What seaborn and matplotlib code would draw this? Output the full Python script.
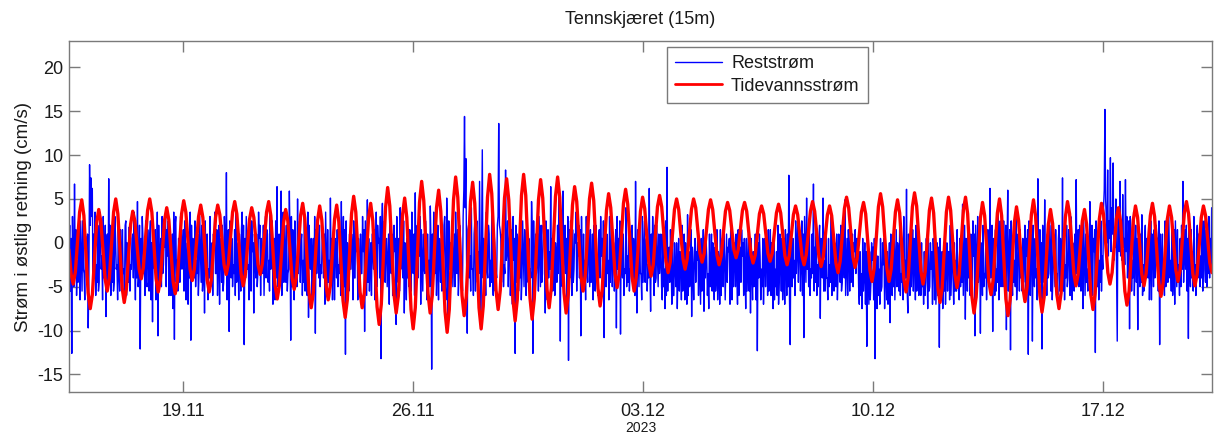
import pandas as pd
import matplotlib
matplotlib.use("Agg")
import matplotlib.pyplot as plt
import matplotlib.dates as mdates
import seaborn as sns

# ---------------- data ----------------
title = "Tennskjæret (15m)"
ylabel = "Strøm i østlig retning (cm/s)"
xlabel = "2023"
series_names = ["Reststrøm", "Tidevannsstrøm"]
xtick_dates = ["2023-11-19", "2023-11-26", "2023-12-03", "2023-12-10", "2023-12-17"]
ytick_values = [-15, -10, -5, 0, 5, 10, 15, 20]
x_range = ["2023-11-15 12:28", "2023-12-20 07:45"]
y_range = [-17, 23]

# residual current (cm/s), samples at hh:30
resid_start = "2023-11-15 12:30"
resid_step = "1h"
resid = [
    -1.0, -5.5, -12.6, -3.0, 6.7, 1.5, -2.0, 0.5, -6.5, -1.5, 2.5, -3.5, 0.8, -4.0, -9.7, 8.9, 7.4, 6.2, 1.0, 3.5, -2.5, 2.0, -4.5, 0.5,
    -1.5, 3.0, -3.5, -8.4, 1.0, 7.3, 2.0, -1.0, 3.2, -4.5, 0.5, -2.5, 2.8, -5.5, -1.0, 1.5, -3.0, 2.0, -6.0, -0.5, 1.8, -2.5, 0.5, -4.0,
    -2.0, 1.0, 4.7, -3.5, -12.1, -4.0, 0.5, -2.5, 2.5, -5.0, -1.5, 1.0, -6.5, -9.0, -2.0, 1.5, -4.0, -10.6, -3.0, 0.5, 3.0, -2.5, -0.5, -5.0,
    -1.5, -6.0, 0.5, -3.0, -7.5, -11.0, 3.0, -2.0, 0.5, -4.5, 1.5, -1.0, -5.5, 2.0, -2.5, -7.0, -4.0, -11.1, -3.5, 0.0, 2.5, -2.0, 1.0, -3.5,
    -1.0, 2.0, -4.0, -8.0, -1.5, 1.0, -3.0, 3.0, -2.0, -6.0, 0.0, -3.5, 1.5, -2.5, -7.0, -1.0, 2.0, -4.5, 0.5, 8.0, 1.0, -10.1, -3.0, 0.5,
    -2.5, 1.5, 4.0, -3.0, -6.5, -1.0, 1.5, -5.0, -11.6, -4.0, 0.0, -2.5, 2.5, -5.5, -1.0, -8.0, -2.0, 1.0, -3.5, 0.5, -6.0, -2.0, 2.0, -1.5,
    -4.0, 1.0, -2.0, 3.5, -1.5, -7.0, 0.5, 2.5, 6.4, 0.0, -3.0, 5.9, 1.5, -4.5, -1.0, 2.0, -3.5, 5.9, -11.1, -5.0, -1.0, 2.5, -2.5, 5.0,
    -1.0, -4.5, 1.0, -2.0, 3.0, -3.0, -6.0, -8.5, -2.5, 0.5, -1.5, -5.0, -10.3, -3.5, 0.0, 2.0, -2.5, 1.0, -4.0, -7.0, -1.5, 1.5, -2.0, 5.1,
    0.5, -3.0, -6.5, -1.0, 1.5, -2.5, 0.5, 4.7, -1.5, -5.0, -12.7, -6.0, -1.5, 1.0, -3.0, -0.5, 2.5, -4.0, -1.0, -6.5, -2.0, 1.0, -3.5, -1.0,
    -10.1, -2.0, 4.9, 0.5, -3.0, -6.0, -1.0, 1.5, -2.5, -5.0, 0.0, -4.0, -13.2, 4.5, -1.5, -4.5, 0.5, -2.0, -7.0, -2.5, 1.0, -3.0, -1.0, -9.3,
    -2.5, 0.5, 4.0, -1.5, -4.0, -8.0, -2.0, 0.5, -3.0, 1.5, -5.5, -1.0, 1.0, 5.7, -0.5, -4.0, -1.5, -7.0, -2.0, 1.0, -3.5, 0.0, 1.0, -2.0,
    4.2, -14.4, -4.0, -1.0, 1.5, -3.5, -6.5, -1.5, 0.5, -2.5, 2.0, -5.0, 5.1, -9.9, -3.0, 0.0, 2.5, -2.0, -5.0, -0.5, 1.5, -3.5, 0.5, -2.5,
    3.0, 14.4, 9.6, -10.3, 2.0, -1.5, 4.0, -3.0, 1.0, -5.5, 2.5, -1.0, 7.0, -9.9, 10.6, 0.5, -2.5, 3.5, -4.0, 1.0, -2.0, 4.5, -6.0, 0.0,
    -3.0, 2.0, 13.6, 1.5, -4.5, 0.0, -2.5, 8.3, -1.0, -5.0, 1.5, -3.0, -7.0, -2.0, -12.6, -4.5, 0.5, -2.0, 2.5, -4.0, -1.0, 1.5, -6.0, -2.5,
    0.5, -3.0, 4.7, -12.6, -3.5, 1.0, -2.0, -5.5, -1.0, 2.0, -3.5, 0.5, -8.0, -2.5, 1.5, -1.0, 6.4, 0.5, -3.0, -6.0, -1.5, 2.0, 6.0, -11.2,
    -2.0, 5.9, 0.5, -3.5, -7.0, -13.4, -4.0, -1.0, 1.5, -3.0, 0.0, -5.5, -1.5, -4.0, -10.6, -3.0, 1.0, -2.0, 3.0, -4.5, -1.0, 1.5, -3.5, -6.5,
    -1.0, 2.0, -2.5, 0.5, -4.0, -1.5, -6.0, -10.8, -3.0, 1.0, -2.0, 3.0, -1.5, -5.0, 0.0, -2.5, -9.7, -3.0, -1.0, -10.4, -2.5, 1.0, -3.0, 4.0,
    -1.5, 2.0, -3.0, 0.5, -5.0, -1.0, 7.0, -8.0, -2.0, 1.5, -3.5, 3.0, -1.0, -4.5, 0.5, -2.5, 6.2, -7.8, -3.0, 0.0, 2.0, -4.0, -1.5, 1.0,
    -2.0, -5.0, 1.0, -3.0, 2.5, 8.6, -1.0, -4.5, -2.0, 1.5, -6.0, -3.0, 0.0, -2.5, -5.5, -1.5, 2.0, -3.5, -6.5, -2.0, 3.2, -1.0, -4.0, -8.4,
    -3.0, -1.0, -4.5, -2.0, -6.0, -3.5, 0.5, -2.5, -7.8, -4.0, -1.5, -3.5, 1.0, -2.5, -5.5, -3.0, -0.5, -4.0, -6.5, -2.0, 1.5, -3.0, -5.0, -1.5,
    -2.5, -4.5, -1.0, -7.0, -3.0, 0.0, -2.0, -5.0, -3.5, 1.5, -2.5, -4.5, -1.5, -6.0, -3.0, 0.5, -2.0, -5.5, -8.0, -3.5, -1.0, -4.0, -6.5, -12.3,
    -4.0, -1.5, -3.0, 0.5, -2.5, -5.0, -1.0, 1.5, -3.5, -6.0, -2.0, 0.0, -3.0, -1.0, 2.0, -4.5, -2.0, 0.5, -3.5, -7.0, -1.5, 1.0, 7.7, -11.6,
    -3.0, 0.5, -2.0, 2.5, -1.0, -4.5, 1.0, -2.5, -6.0, -10.8, -1.0, 5.1, 0.0, 2.5, -3.0, 1.0, 6.7, -0.5, 2.0, -2.5, 0.5, -8.6, -1.0, 5.1,
    -2.0, 1.5, -4.0, 0.5, -2.5, 3.0, -1.0, -5.5, -2.0, 1.0, -3.5, -0.5, 2.0, -4.5, -1.5, 4.9, -2.5, -6.0, -1.0, 1.5, -3.0, -5.0, -1.0, -3.5,
    -2.0, -5.0, -1.0, -3.5, 0.5, -4.0, -7.0, -11.8, -3.0, -1.0, -4.5, -2.0, -6.5, -13.2, -4.0, -1.5, -3.0, 0.5, -5.0, -2.5, -7.5, -3.0, -1.0, -4.0,
    -9.1, -3.0, -0.5, 2.0, -2.5, -5.0, -1.0, 1.5, -3.5, 0.0, 3.0, -2.0, 6.1, -8.0, -3.0, 0.5, -2.0, -5.5, -1.5, 2.0, -3.0, -6.0, -2.0, 0.0,
    -3.5, -1.0, -4.5, -2.0, 0.5, -5.0, -3.0, -7.0, -1.5, 1.0, -3.5, -6.0, -11.9, -4.0, -1.0, -2.5, 1.5, -3.0, -5.5, -1.0, 2.0, -2.5, -4.0, 0.0,
    -2.0, 1.5, -3.0, 0.5, -1.5, 4.4, -2.0, -8.7, -1.0, 2.5, -2.5, 1.0, -4.0, -1.5, -10.6, -2.0, 3.0, -3.0, -10.3, -1.0, 2.0, -3.5, 0.5, -2.0,
    -4.5, 6.2, 0.5, -10.1, -2.5, 1.5, -3.0, 3.5, -1.0, -5.0, 0.0, 2.5, -2.0, -9.9, 6.0, -1.5, -12.2, -3.5, 0.5, -2.0, 3.0, -4.0, -1.0, 1.5,
    -3.0, 0.5, -2.0, -6.0, -1.5, -12.7, -3.0, 1.0, -11.2, -2.5, 0.5, -3.0, 7.3, -1.0, -4.5, -12.1, -2.0, 4.9, -1.5, 1.0, -3.5, -0.5, 2.0, -4.0,
    -2.0, 1.5, -3.5, 0.5, -5.5, -1.0, 7.4, 0.0, -2.5, 2.0, -4.0, -1.0, 3.0, -6.5, -1.5, 1.0, 7.2, -2.0, -5.0, 0.5, -3.0, -7.5, -1.5, 1.0,
    -3.0, 0.5, 4.7, -2.5, -6.0, -1.0, -12.5, -3.0, 1.0, -2.0, 2.5, -1.5, 4.0, 15.2, 3.0, 8.3, 2.5, 9.7, 4.0, 9.1, 1.5, 5.0, -11.2, 3.0,
    7.0, 2.0, 5.5, 0.5, 7.2, 3.0, -1.0, -9.8, 1.5, -2.0, 3.5, -1.5, -4.5, -9.9, -1.0, 1.0, 3.2, -2.5, 0.0, -4.0, -1.5, 2.0, -3.0, -6.5,
    -1.0, 1.5, -3.0, 0.5, -5.5, -11.6, -2.0, 1.0, -2.5, 2.5, -1.0, -4.5, 0.0, -2.0, 3.0, -3.5, -7.0, -1.5, 1.5, -2.5, 0.5, 2.0, 7.0, -1.0,
    -3.0, -5.5, -10.9, -2.0, 1.5, -1.0, 3.0, -2.5, 0.5, -4.0, 1.0, -1.5, 2.5, -0.5, -3.0, 1.5, -1.0, 3.0, 0.5, 4.0,
]

# residual current (cm/s), samples at hh:00 (between the hh:30 samples)
resid_mid_start = "2023-11-15 13:00"
resid_mid_step = "1h"
resid_mid = [
    2.0, 0.5, 3.0, -5.0, -3.5, -6.0, -4.5, 1.5, 2.5, -5.5, -3.0, -6.5, 0.0, 1.0, -4.0, 2.0, 3.0, -5.0, -3.5, -6.0, -4.5, -5.5, 3.5, -3.0,
    -6.5, -4.0, 2.0, 0.5, -5.0, -3.5, -6.0, -4.5, -5.5, 3.0, -3.0, -6.5, -4.0, 1.5, -5.0, -3.5, -6.0, 2.5, 0.0, -4.5, -5.5, -3.0, 1.0, 3.5,
    -6.5, -4.0, -5.0, 2.0, 0.5, 3.0, -3.5, -6.0, -4.5, 1.5, -5.5, 2.5, 0.0, 1.0, -3.0, -6.5, 3.5, 2.0, -4.0, -5.0, -3.5, 0.5, 3.0, 1.5,
    2.5, 0.0, -6.0, 1.0, 3.5, 2.0, -4.5, -5.5, 0.5, 3.0, -3.0, 1.5, 2.5, -6.5, 0.0, 1.0, 3.5, 2.0, 0.5, -4.0, -5.0, -3.5, -6.0, 3.0,
    -4.5, -5.5, 1.5, 2.5, -3.0, -6.5, -4.0, -5.0, 0.0, 1.0, 3.5, -3.5, -6.0, 2.0, 0.5, -4.5, -5.5, 3.0, -3.0, -6.5, 1.5, 2.5, -4.0, -5.0,
    -3.5, -6.0, -4.5, 0.0, 1.0, -5.5, 3.5, 2.0, 0.5, 3.0, -3.0, -6.5, 1.5, 2.5, 0.0, 1.0, -4.0, -5.0, 3.5, 2.0, 0.5, -3.5, -6.0, 3.0,
    1.5, -4.5, -5.5, -3.0, 2.5, 0.0, -6.5, -4.0, -5.0, 1.0, -3.5, -6.0, 3.5, 2.0, -4.5, -5.5, -3.0, 0.5, 3.0, 1.5, -6.5, -4.0, -5.0, -3.5,
    2.5, 0.0, -6.0, -4.5, -5.5, 1.0, 3.5, 2.0, -3.0, -6.5, 0.5, 3.0, 1.5, 2.5, -4.0, -5.0, -3.5, 0.0, 1.0, 3.5, -6.0, -4.5, -5.5, -3.0,
    -6.5, 2.0, 0.5, -4.0, -5.0, -3.5, -6.0, -4.5, 3.0, 1.5, 2.5, 0.0, -5.5, -3.0, 1.0, -6.5, -4.0, 3.5, 2.0, 0.5, -5.0, -3.5, 3.0, 1.5,
    2.5, -6.0, -4.5, -5.5, 0.0, 1.0, -3.0, -6.5, 3.5, 2.0, 0.5, 3.0, 1.5, -4.0, 2.5, 0.0, -5.0, 1.0, 3.5, -3.5, -6.0, 2.0, 0.5, 3.0,
    -4.5, -5.5, -3.0, 1.5, 2.5, 0.0, -6.5, -4.0, -5.0, 1.0, 3.5, -3.5, -6.0, -4.5, 2.0, 0.5, 3.0, 1.5, -5.5, -3.0, 2.5, -6.5, -4.0, -5.0,
    0.0, 1.0, 3.5, -3.5, -6.0, 2.0, 0.5, -4.5, -5.5, -3.0, 3.0, -6.5, 1.5, 2.5, 0.0, -4.0, -5.0, 1.0, 3.5, -3.5, -6.0, 2.0, -4.5, -5.5,
    6.0, 4.0, -2.0, 1.5, -4.0, -5.5, -3.0, -6.0, 2.5, 0.5, -4.5, -3.5, -1.0, 0.0, -4.0, -5.5, -6.0, -3.0, 2.0, -5.0, -4.5, -3.5, 1.5, -5.5,
    -4.0, 3.0, 2.0, 0.5, 1.0, -5.0, -3.5, -2.0, 2.5, 0.0, -6.0, 1.5, 3.0, 0.5, 2.0, 1.0, -5.5, -4.0, -6.5, 2.5, -5.0, 0.5, 2.0, -4.5,
    -5.5, -4.0, 1.5, 2.5, -6.0, -3.5, 1.0, 3.0, -5.0, -4.5, 2.0, 0.5, 2.5, -6.5, -4.0, -3.0, -5.0, -5.5, 1.5, 0.0, -4.5, -3.5, 1.0, 2.5,
    -5.0, -3.5, 2.0, 0.5, 3.0, 1.5, 2.5, -6.0, -4.5, 1.0, 3.5, 0.0, 2.0, 1.5, 3.0, -5.5, -4.0, -6.5, -3.0, 2.5, -5.0, -4.5, 1.0, 2.0,
    -5.5, -4.0, -6.0, 1.5, 3.0, 0.5, 2.5, 1.0, -5.0, -3.5, -6.5, -4.5, 2.0, 0.0, -5.5, 1.5, 3.0, 0.5, 2.5, 1.0, -4.0, -6.0, -3.5, -5.0,
    -4.5, -5.5, -3.0, 2.0, 0.5, -6.0, -4.0, 1.5, -5.0, -3.5, -6.5, -4.5, 2.5, 0.0, -5.5, -4.0, -3.0, 1.0, 3.0, -6.0, -4.5, 2.0, -5.0, -3.5,
    1.0, -6.5, -5.0, -7.5, -6.0, -5.5, -0.5, 1.5, -7.0, -6.0, 0.0, -5.0, -7.5, 0.5, -1.0, -6.5, -5.5, 1.0, 0.0, -7.0, -6.0, -5.0, 1.5, -0.5,
    -6.5, 0.5, -1.0, 1.0, 0.0, -7.0, -5.5, 1.5, -0.5, 0.5, -6.0, -7.5, -5.0, 1.0, 0.0, -6.5, -5.5, 1.5, -1.0, -7.0, -6.0, 0.5, 1.0, -6.5,
    1.0, -0.5, 0.5, 1.5, -6.5, -5.0, 0.0, 1.0, -7.0, -6.0, -0.5, 1.5, 0.0, 0.5, -7.5, -5.5, 1.0, -1.0, 0.5, -6.5, -5.0, 1.0, -0.5, 0.0,
    1.0, -6.5, -5.0, -7.0, 0.5, -0.5, -6.0, -5.5, 1.5, 0.0, -7.5, -6.5, -5.0, -6.0, -7.0, 1.0, -5.5, -6.5, 0.5, 1.5, -6.0, -5.0, -6.5, 0.0,
    -5.0, -4.0, -6.0, -3.5, 2.0, 0.5, -5.5, 2.5, 1.0, 3.0, -4.5, -3.0, -5.0, -6.0, -4.0, -3.5, -5.5, -4.5, -6.0, -5.0, 2.0, 0.5, -4.0, -5.5,
    -5.5, -4.0, -6.5, -5.0, -4.5, -6.0, 1.5, 0.0, -5.0, -6.5, 1.0, -4.5, -5.5, 1.5, -4.0, -6.0, 0.5, 1.5, -5.5, -4.5, 1.0, 0.0, 1.5, 0.5,
    0.5, -7.0, -6.0, -7.5, -5.5, 0.0, -1.0, 0.5, -7.0, -6.5, 0.0, -0.5, 0.5, -1.0, -7.5, -6.0, -7.0, -5.5, 0.0, 0.5, -1.0, -6.5, -7.0, 0.0,
    1.0, -6.0, -5.0, -6.5, 1.5, 0.0, -5.5, -6.0, -4.5, -6.5, -5.0, -4.0, -5.5, 1.0, -6.0, -5.0, 1.5, 0.5, -6.5, -5.5, 1.0, 0.0, -6.0, -5.0,
    -7.0, -6.0, 0.5, -7.5, -5.5, 0.0, -1.0, 0.5, -6.5, -7.0, 0.0, -0.5, 0.5, -6.0, -7.5, -5.5, -7.0, 0.0, -1.0, -6.5, -6.0, 0.5, -7.0, -5.5,
    -5.5, -4.0, -6.5, -5.0, -4.5, -6.0, 2.0, 0.5, -5.5, -4.0, -6.0, -5.0, 2.5, 1.0, 2.0, -5.5, -4.5, 1.5, 0.0, -6.0, -5.0, -4.0, -6.5, 1.5,
    -5.0, -4.0, 2.0, 0.5, -6.0, -5.5, -4.5, -6.5, 2.5, 1.0, -5.0, -4.0, 2.0, 0.0, -5.5, 1.5, 2.5, -6.0, -4.5, -5.0, -6.5, 1.0, -5.5, -4.0,
    -5.5, -4.5, 2.0, 0.5, 1.5, 2.5, -6.0, 1.0, 2.0, -5.0, -4.0, -6.5, -5.5, 1.5, 0.0, 2.0, -4.5, -5.0, -6.0, -4.0, 2.5, -5.5, -6.5, 1.0,
    -5.0, -4.0, -6.0, 2.0, 0.5, -4.5, -5.5, -6.5, -4.0, -5.0, 1.5, -6.0, 2.5, 0.0, -5.5, -4.5, -3.5, 1.5, 2.0, -5.5, 1.0, 2.5, -6.0, -4.5,
    -5.5, -4.0, -6.0, 2.0, 0.5, 1.5, 2.5, -5.0, -6.5, -4.5, -5.5, -3.0, 6.0, 5.0, 0.0, -1.5, 0.5, -1.0, 1.0, -2.0, -0.5, -3.0, 4.0, -1.0,
    -1.5, -2.0, -0.5, -2.5, -1.0, -4.0, 2.5, 3.0, -5.5, -4.0, -6.0, 2.0, 0.5, 1.5, -5.0, -4.5, -6.0, -5.5, 2.0, 0.5, -4.0, -6.5, 2.5, 1.0,
    -5.0, -4.0, 2.0, 0.5, 2.5, 1.0, -5.5, -4.5, -6.0, -5.0, 2.0, 3.0, -4.0, -5.5, -6.0, 1.5, 2.5, -5.0, -4.5, -6.0, -5.0, -3.0, -4.5, 1.5,
    2.0, 0.5, 2.5, -5.0, -4.0, -5.5, -4.5, -6.0, 2.0, 1.0, -5.0, -4.0, -5.5, 2.5, -4.5, -5.0, -3.5, -4.0, -2.5,
]

# tidal current (cm/s), sampled every 1/8 of an M2 cycle (93.15 min)
tide_start = "2023-11-15 12:28"
tide_step = "5589s"
tide = [
    -0.8, -3.6, -4.7,
    -3.3, 0.1, 3.5, 4.9,   3.1, -1.3, -5.7, -7.5,   -5.9, -1.9, 2.2, 3.8,
    2.4, -0.9, -4.1, -5.5,   -4.0, -0.3, 3.5, 5.0,   3.3, -0.9, -5.1, -6.8,
    -5.3, -1.6, 2.1, 3.6,   2.5, -0.3, -3.0, -4.1,   -2.8, 0.5, 3.7, 5.0,
    3.5, -0.3, -4.1, -5.6,   -4.2, -0.8, 2.6, 4.0,   2.6, -0.9, -4.4, -5.8,
    -4.3, -0.5, 3.3, 4.8,   3.5, 0.3, -3.0, -4.3,   -3.0, 0.0, 3.0, 4.3,
    2.9, -0.7, -4.2, -5.6,   -4.2, -0.7, 2.9, 4.3,   3.2, 0.4, -2.5, -3.6,
    -2.4, 0.6, 3.5, 4.7,   3.3, -0.1, -3.5, -4.9,   -3.6, -0.5, 2.7, 4.0,
    2.9, 0.2, -2.5, -3.6,   -2.4, 0.6, 3.5, 4.7,   3.1, -0.9, -4.8, -6.4,
    -4.9, -1.3, 2.3, 3.8,   2.5, -0.8, -4.0, -5.3,   -3.9, -0.4, 3.1, 4.5,
    2.8, -1.5, -5.7, -7.4,   -5.7, -1.6, 2.5, 4.2,   2.6, -1.2, -4.9, -6.5,
    -4.9, -1.1, 2.7, 4.3,   2.4, -2.1, -6.6, -8.5,   -6.5, -1.6, 3.3, 5.3,
    3.5, -1.1, -5.6, -7.4,   -5.7, -1.5, 2.8, 4.5,   2.5, -2.4, -7.3, -9.3,
    -7.0, -1.5, 4.0, 6.3,   4.2, -0.9, -5.9, -8.0,   -6.1, -1.5, 3.2, 5.1,
    2.9, -2.4, -7.6, -9.8,   -7.4, -1.4, 4.6, 7.0,   4.8, -0.5, -5.8, -8.0,
    -6.0, -1.0, 4.0, 6.0,   3.6, -2.1, -7.8, -10.2,   -7.6, -1.4, 4.9, 7.5,
    5.2, -0.4, -6.0, -8.3,   -6.1, -0.7, 4.7, 6.9,   4.5, -1.5, -7.4, -9.8,
    -7.2, -1.0, 5.2, 7.8,   5.6, 0.1, -5.4, -7.6,   -5.4, -0.2, 5.1, 7.3,
    4.9, -0.8, -6.5, -8.9,   -6.5, -0.6, 5.4, 7.8,   5.4, -0.5, -6.3, -8.7,
    -6.4, -0.8, 4.9, 7.2,   5.1, -0.1, -5.3, -7.4,   -5.2, 0.1, 5.3, 7.5,
    5.2, -0.3, -5.7, -8.0,   -5.9, -0.8, 4.3, 6.4,   4.7, 0.5, -3.8, -5.5,
    -3.7, 0.7, 5.0, 6.8,   4.8, -0.2, -5.2, -7.2,   -5.3, -0.8, 3.7, 5.6,
    4.0, 0.3, -3.5, -5.1,   -3.5, 0.5, 4.5, 6.1,   4.4, 0.3, -3.8, -5.5,
    -3.9, -0.2, 3.6, 5.2,   3.9, 0.7, -2.5, -3.8,   -2.5, 0.8, 4.1, 5.4,
    4.1, 1.0, -2.1, -3.4,   -2.2, 0.8, 3.8, 5.0,   3.8, 1.0, -1.8, -3.0,
    -1.8, 1.0, 3.8, 5.0,   4.0, 1.4, -1.2, -2.2,   -1.2, 1.3, 3.8, 4.9,
    3.8, 1.2, -1.4, -2.5,   -1.5, 1.1, 3.6, 4.6,   3.7, 1.5, -0.8, -1.7,
    -0.8, 1.5, 3.7, 4.6,   3.6, 1.2, -1.3, -2.3,   -1.4, 1.0, 3.3, 4.2,
    3.3, 1.1, -1.2, -2.1,   -1.2, 1.1, 3.4, 4.4,   3.4, 1.0, -1.5, -2.5,
    -1.5, 0.9, 3.2, 4.2,   3.2, 0.9, -1.5, -2.5,   -1.4, 1.1, 3.6, 4.7,
    3.6, 1.0, -1.6, -2.7,   -1.7, 0.8, 3.2, 4.2,   3.1, 0.4, -2.3, -3.4,
    -2.1, 0.9, 3.9, 5.2,   4.0, 1.2, -1.6, -2.8,   -1.7, 0.9, 3.5, 4.6,
    3.3, 0.1, -3.1, -4.4,   -2.9, 0.6, 4.1, 5.6,   4.1, 0.6, -2.9, -4.4,
    -3.0, 0.3, 3.5, 4.9,   3.4, -0.4, -4.1, -5.6,   -4.0, 0.1, 4.1, 5.7,
    4.2, 0.5, -3.2, -4.7,   -3.3, 0.2, 3.7, 5.1,   3.4, -0.9, -5.1, -6.8,
    -5.1, -0.8, 3.5, 5.2,   3.7, 0.1, -3.6, -5.1,   -3.6, 0.1, 3.7, 5.2,
    3.3, -1.4, -6.1, -8.0,   -6.2, -1.7, 2.8, 4.6,   3.1, -0.7, -4.4, -5.9,
    -4.3, -0.5, 3.4, 5.0,   3.1, -1.7, -6.4, -8.3,   -6.5, -2.1, 2.3, 4.1,
    2.5, -1.3, -5.1, -6.7,   -5.0, -0.9, 3.2, 4.9,   3.0, -1.5, -6.0, -7.9,
    -6.2, -2.1, 2.1, 3.8,   2.2, -1.9, -5.9, -7.5,   -5.7, -1.4, 2.9, 4.7,
    3.3, -0.1, -3.5, -4.9,   -3.6, -0.6, 2.5, 3.8,   2.1, -1.9, -5.9, -7.6,
    -5.8, -1.6, 2.7, 4.5,   3.2, -0.1, -3.4, -4.7,   -3.4, -0.4, 2.7, 4.0,
    2.4, -1.6, -5.5, -7.1,   -5.5, -1.5, 2.6, 4.2,   2.9, -0.4, -3.6, -4.9,
    -3.5, -0.2, 3.1, 4.5,   3.0, -0.8, -4.6, -6.1,   -4.6, -1.0, 2.7, 4.2,
    2.9, -0.1, -3.1, -4.4,   -3.1, 0.2, 3.4, 4.7,   3.3, -0.1, -3.5, -4.9,
    -3.6, -0.4, 2.9, 4.2,   3.1, 0.4, -2.3, -3.4,
]

# ---------------- figure ----------------
sns.set_theme(style="white")
plt.rcParams["font.family"] = ["Liberation Sans", "DejaVu Sans"]
plt.rcParams["axes.unicode_minus"] = False

axis_grey = "#7a7a7a"
text_col = "#1a1a1a"

W, H = 1217, 437
fig = plt.figure(figsize=(W / 100, H / 100), dpi=100)
ax = fig.add_axes([69 / W, 1 - 392 / H, (1212 - 69) / W, (392 - 41) / H])

df_resid = pd.concat([
    pd.DataFrame({"time": pd.date_range(resid_start, periods=len(resid), freq=resid_step),
                  "value": resid}),
    pd.DataFrame({"time": pd.date_range(resid_mid_start, periods=len(resid_mid), freq=resid_mid_step),
                  "value": resid_mid}),
]).sort_values("time").reset_index(drop=True)
df_tide = pd.DataFrame({
    "time": pd.date_range(tide_start, periods=len(tide), freq=tide_step),
    "value": tide,
})

sns.lineplot(data=df_resid, x="time", y="value", ax=ax, color="#0000FF",
             linewidth=1.0, estimator=None, sort=False, label=series_names[0])
sns.lineplot(data=df_tide, x="time", y="value", ax=ax, color="#FF0000",
             linewidth=2.4, estimator=None, sort=False, label=series_names[1])

ax.set_xlim(pd.Timestamp(x_range[0]), pd.Timestamp(x_range[1]))
ax.set_ylim(*y_range)
ax.set_xticks([pd.Timestamp(d) for d in xtick_dates])
ax.xaxis.set_major_formatter(mdates.DateFormatter("%d.%m"))
ax.set_yticks(ytick_values)

for s in ax.spines.values():
    s.set_visible(True)
    s.set_color(axis_grey)
    s.set_linewidth(1.0)
ax.tick_params(axis="both", which="major", direction="in", length=8, width=1.0,
               color=axis_grey, labelcolor=text_col, labelsize=13,
               top=True, right=True, bottom=True, left=True)
ax.tick_params(axis="x", pad=8)
ax.tick_params(axis="y", pad=4)

ax.set_title(title, fontsize=13, color=text_col, pad=12)
ax.set_ylabel(ylabel, fontsize=13.5, color=text_col, labelpad=4)
ax.set_xlabel(xlabel, fontsize=10, color=text_col, labelpad=1)

leg = ax.legend(loc="upper left", bbox_to_anchor=((667 - 69) / 1143, 1 - 6 / 351),
                frameon=True, fancybox=False, framealpha=1.0, edgecolor=axis_grey,
                fontsize=13, handlelength=2.6, handletextpad=0.5,
                borderpad=0.45, labelspacing=0.3, borderaxespad=0.0)
leg.get_frame().set_linewidth(1.0)
for line in leg.get_lines():
    line.set_linewidth(1.0 if line.get_color() == "#0000FF" else 2.0)
for t in leg.get_texts():
    t.set_color(text_col)

fig.savefig("out.png", dpi=100, facecolor="white")
